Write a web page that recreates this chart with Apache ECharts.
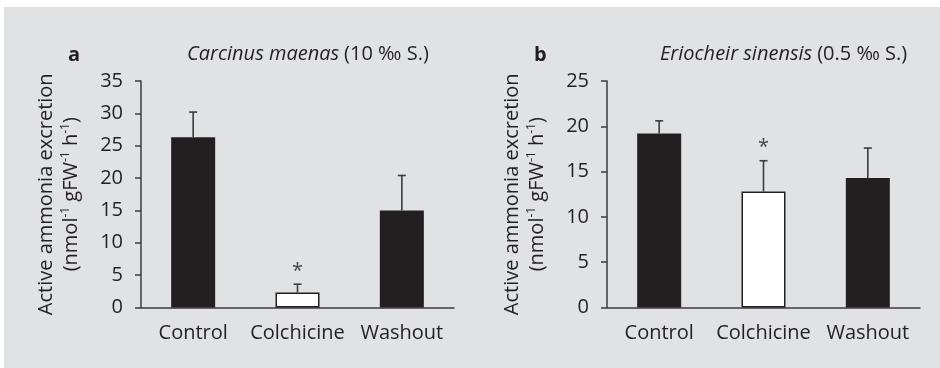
<!DOCTYPE html>
<html>
<head>
<meta charset="utf-8">
<style>
  html, body { margin: 0; padding: 0; background: #ffffff; }
  #chart { width: 940px; height: 368px; }
</style>
<script src="https://cdn.jsdelivr.net/npm/echarts@6/dist/echarts.min.js"></script>
</head>
<body>
<div id="chart"></div>
<script>
// Treatments shown on both panels
const categories = ['Control', 'Colchicine', 'Washout'];

// Panel a: Carcinus maenas (10 ‰ S.)
const carcinusMean = [26.3, 2.3, 15.0];
const carcinusUpper = [30.2, 3.6, 20.4];
const carcinusSig = [false, true, false];

// Panel b: Eriocheir sinensis (0.5 ‰ S.)
const eriocheirMean = [19.2, 12.8, 14.3];
const eriocheirUpper = [20.6, 16.2, 17.6];
const eriocheirSig = [false, true, false];

// Y axis ranges
const yMaxA = 35;
const yMaxB = 25;
const yStep = 5;

const INK = '#231f20';
const AXIS = '#3c3c3c';
const FONT = '"Open Sans", "Noto Sans", sans-serif';

const yName = '{a|Active ammonia excretion}\n{a|(nmol}{s|-1}{a| gFW}{s|-1}{a| h}{s|-1}{a|)}';
const yNameRich = {
  a: { fontSize: 20, lineHeight: 25, color: INK, fontFamily: FONT, verticalAlign: 'bottom' },
  s: { fontSize: 12, lineHeight: 25, color: INK, fontFamily: FONT, verticalAlign: 'top', padding: [4, 0, 0, 0] }
};

function barData(means) {
  // the colchicine bar is drawn open (white with outline)
  return means.map((v, i) => ({
    value: v,
    itemStyle: i === 1
      ? { color: '#ffffff', borderColor: INK, borderWidth: 1.5 }
      : { color: INK }
  }));
}

function errData(means, uppers, sig) {
  return means.map((v, i) => [i, v, uppers[i], sig[i] ? 1 : 0]);
}

function renderError(params, api) {
  const idx = api.value(0);
  const base = api.coord([idx, api.value(1)]);
  const top = api.coord([idx, api.value(2)]);
  const half = 4;
  const children = [
    { type: 'line', shape: { x1: base[0], y1: base[1], x2: top[0], y2: top[1] },
      style: { stroke: AXIS, lineWidth: 1.6 } },
    { type: 'line', shape: { x1: top[0] - half, y1: top[1], x2: top[0] + half, y2: top[1] },
      style: { stroke: AXIS, lineWidth: 1.6 } }
  ];
  if (api.value(3) === 1) {
    children.push({
      type: 'text',
      style: { text: '*', x: top[0], y: top[1] - 13, align: 'center', verticalAlign: 'middle',
               fontSize: 20, fontFamily: FONT, fill: '#444' }
    });
  }
  return { type: 'group', children };
}

function xAxisFor(gridIndex) {
  return {
    type: 'category', gridIndex, data: categories,
    axisLine: { lineStyle: { color: AXIS, width: 1.5 } },
    axisTick: { show: false },
    axisLabel: { color: INK, fontSize: 20, fontFamily: FONT, margin: 16, interval: 0 }
  };
}

function yAxisFor(gridIndex, max) {
  return {
    type: 'value', gridIndex, min: 0, max, interval: yStep,
    axisLine: { show: true, lineStyle: { color: AXIS, width: 1.5 } },
    axisTick: { show: true, length: 6, lineStyle: { color: AXIS, width: 1.5 } },
    axisLabel: { color: INK, fontSize: 20, fontFamily: FONT, margin: 18 },
    splitLine: { show: false },
    name: yName, nameLocation: 'middle', nameRotate: 90, nameGap: 60,
    nameTextStyle: { rich: yNameRich }
  };
}

function titleRich() {
  return {
    i: { fontSize: 20, fontStyle: 'italic', fontWeight: 'normal', color: INK, fontFamily: FONT },
    n: { fontSize: 20, fontWeight: 'normal', color: INK, fontFamily: FONT }
  };
}

const chart = echarts.init(document.getElementById('chart'));
chart.setOption({
  backgroundColor: '#ffffff',
  animation: false,
  graphic: [
    { type: 'rect', z: -100, shape: { x: 4, y: 7, width: 936, height: 361 },
      style: { fill: '#e1e2e4' } }
  ],
  title: [
    { text: 'a', left: 63, top: 40, textStyle: { fontSize: 20, fontWeight: 'bold', color: INK, fontFamily: FONT } },
    { text: '{i|Carcinus maenas} {n|(10 ‰ S.)}', left: 182, top: 39,
      textStyle: { fontWeight: 'normal', rich: titleRich() } },
    { text: 'b', left: 529, top: 40, textStyle: { fontSize: 20, fontWeight: 'bold', color: INK, fontFamily: FONT } },
    { text: '{i|Eriocheir sinensis} {n|(0.5 ‰ S.)}', left: 655, top: 39,
      textStyle: { fontWeight: 'normal', rich: titleRich() } }
  ],
  grid: [
    { left: 141, top: 81, width: 313, height: 226.5 },
    { left: 607, top: 81, width: 313, height: 226.5 }
  ],
  xAxis: [xAxisFor(0), xAxisFor(1)],
  yAxis: [yAxisFor(0, yMaxA), yAxisFor(1, yMaxB)],
  series: [
    { type: 'bar', xAxisIndex: 0, yAxisIndex: 0, barWidth: 44, data: barData(carcinusMean) },
    { type: 'custom', xAxisIndex: 0, yAxisIndex: 0, z: 3, renderItem: renderError,
      data: errData(carcinusMean, carcinusUpper, carcinusSig) },
    { type: 'bar', xAxisIndex: 1, yAxisIndex: 1, barWidth: 44, data: barData(eriocheirMean) },
    { type: 'custom', xAxisIndex: 1, yAxisIndex: 1, z: 3, renderItem: renderError,
      data: errData(eriocheirMean, eriocheirUpper, eriocheirSig) }
  ]
});
</script>
</body>
</html>
